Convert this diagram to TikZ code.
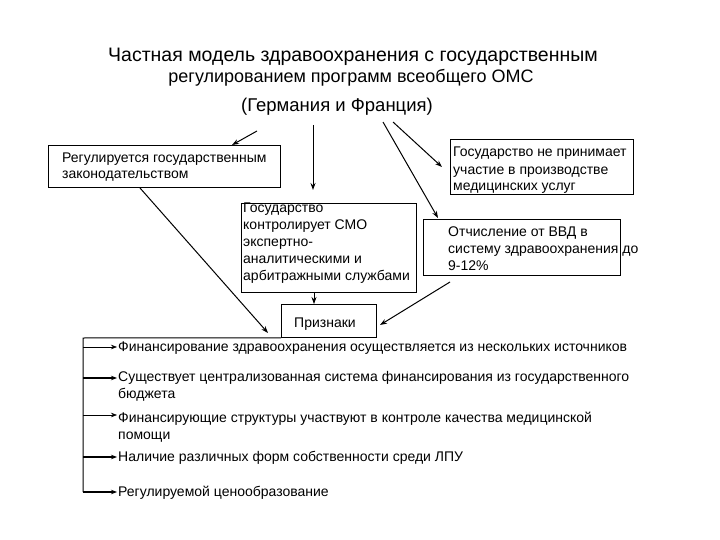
\documentclass[tikz,border=0pt]{standalone}
\usepackage{fontspec}
\setmainfont{Liberation Sans}
\usetikzlibrary{arrows.meta}
\begin{document}
\begin{tikzpicture}[x=1pt,y=-1pt,
  box/.style={draw, line width=0.8pt, inner sep=0pt, anchor=north west},
  txt/.style={inner sep=0pt, anchor=base west, align=left, font=\fontsize{14}{17}\selectfont},
  ttl/.style={inner sep=0pt, anchor=base, align=center, font=\fontsize{18.5}{21}\selectfont},
  arr/.style={-{Stealth[length=7pt,width=5pt]}, line width=1pt},
  br/.style={-{Stealth[length=6pt,width=4.5pt]}, line width=0.6pt},
  brk/.style={-{Stealth[length=6pt,width=4.5pt]}, line width=1.2pt}]
\useasboundingbox (0,0) rectangle (720,540);
% title
\node[ttl, font=\fontsize{19.5}{21}\selectfont] (t1) at (353,62) {Частная модель здравоохранения с государственным};
\node[ttl, font=\fontsize{18}{21}\selectfont] (t2) at (351,83) {регулированием программ всеобщего ОМС};
\node[ttl] (t3) at (337,112) {(Германия и Франция)};
% boxes
\node[box, minimum width=232, minimum height=42] (b1) at (48,145) {};
\node[txt] (b1t) at (62,179) {Регулируется государственным\\законодательством};
\node[box, minimum width=175, minimum height=89] (b2) at (241,203) {};
\node[txt] (b2t) at (243,280) {Государство\\контролирует СМО\\экспертно-\\аналитическими и\\арбитражными службами};
\node[box, minimum width=183, minimum height=55] (b3) at (450,139) {};
\node[txt] (b3t) at (453,191) {Государство не принимает\\участие в производстве\\медицинских услуг};
\node[box, minimum width=197, minimum height=56] (b4) at (423,219) {};
\node[txt] (b4t) at (448,270) {Отчисление от ВВД в\\систему здравоохранения до\\9-12\%};
\node[box, minimum width=95, minimum height=33] (pr) at (281,304) {};
\node[txt, anchor=base] (prt) at (325,327) {Признаки};
% items
\node[txt] (i1) at (118,351) {Финансирование здравоохранения осуществляется из нескольких источников};
\node[txt] (i2) at (118,398) {Существует централизованная система финансирования из государственного\\бюджета};
\node[txt] (i3) at (118,439) {Финансирующие структуры участвуют в контроле качества медицинской\\помощи};
\node[txt] (i4) at (118,461) {Наличие различных форм собственности среди ЛПУ};
\node[txt] (i5) at (118,496) {Регулируемой ценообразование};
% coordinates
\coordinate (s1) at (257,131);
\coordinate (e1) at (232,145);
\coordinate (s2) at (313,125);
\coordinate (e2) at (313,190);
\coordinate (s3) at (393,122);
\coordinate (e3) at (442,167);
\coordinate (s4) at (383,122);
\coordinate (e4) at (438,218);
\coordinate (s5) at (140,188);
\coordinate (e5) at (268,333);
\coordinate (s6) at (450,282);
\coordinate (e6) at (380,325);
\coordinate (bk) at (83,338);
\coordinate (bb) at (83,492);
% connectors
\draw[arr] (s1) -- (e1);
\draw[arr] (s2) -- (e2);
\draw[arr] (s3) -- (e3);
\draw[arr] (s4) -- (e4);
\draw[arr] (s5) -- (e5);
\draw[arr] (s6) -- (e6);
\draw[arr, line width=0.7pt] (b2.south -| 314,0) -- (pr.north -| 314,0);
\draw[line width=1pt] (pr.south west) -- (bk) -- (bb);
\draw[br] (83,347) -- (117,347);
\draw[brk] (83,378) -- (117,378);
\draw[br] (83,415) -- (117,415);
\draw[brk] (83,457) -- (117,457);
\draw[brk] (bb) -- (117,492);
\end{tikzpicture}
\end{document}
